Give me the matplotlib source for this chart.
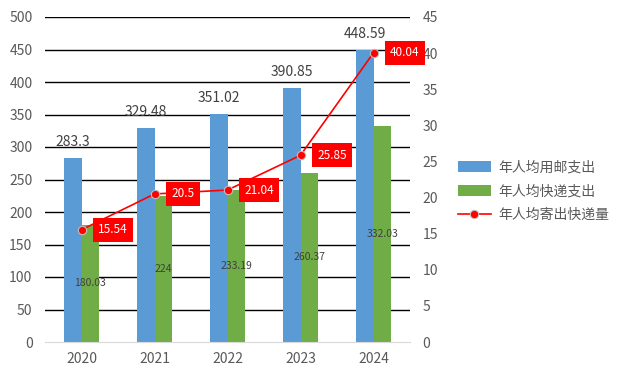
import matplotlib
matplotlib.use("Agg")
import matplotlib.pyplot as plt
import numpy as np

plt.rcParams['font.family'] = ['Noto Sans CJK SC', 'DejaVu Sans']

years = ['2020', '2021', '2022', '2023', '2024']
postal_spend = [283.3, 329.48, 351.02, 390.85, 448.59]
express_spend = [180.03, 224, 233.19, 260.37, 332.03]
express_count = [15.54, 20.5, 21.04, 25.85, 40.04]
series_names = ['年人均用邮支出', '年人均快递支出', '年人均寄出快递量']

blue = '#5B9BD5'
green = '#70AD47'
gray = '#595959'

fig = plt.figure(figsize=(6.33, 3.82), dpi=100)
ax = fig.add_axes([45/633, 1-342/382, 365/633, 325/382])
ax2 = ax.twinx()

x = np.arange(len(years))
w = 0.24
b1 = ax.bar(x - w/2, postal_spend, w, color=blue, label=series_names[0], zorder=2)
b2 = ax.bar(x + w/2, express_spend, w, color=green, label=series_names[1], zorder=2)

ax.set_xlim(-0.5, 4.5)
ax.set_ylim(0, 500)
ax.set_yticks(np.arange(0, 501, 50))
ax2.set_ylim(0, 45)
ax2.set_yticks(np.arange(0, 46, 5))

for yv in np.arange(50, 501, 50):
    ax.axhline(yv, color='black', lw=1.0, zorder=1)

for s in ['top', 'left', 'right']:
    ax.spines[s].set_visible(False)
    ax2.spines[s].set_visible(False)
ax2.spines['bottom'].set_visible(False)
ax.spines['bottom'].set_color('#D9D9D9')
ax.tick_params(axis='y', length=0, labelsize=10, colors=gray, pad=9)
ax.tick_params(axis='x', length=0, labelsize=10, colors=gray, pad=7)
ax2.tick_params(axis='y', length=0, labelsize=10, colors=gray, pad=9)
ax.set_xticks(x)
ax.set_xticklabels(years)

for xi, v in zip(x, postal_spend):
    ax.text(xi - w/2, v + 14, f'{v:g}', ha='center', va='bottom', fontsize=10, color='#404040', zorder=5)
for xi, v in zip(x, express_spend):
    ax.text(xi + w/2, v/2, f'{v:g}', ha='center', va='center', fontsize=7.5, color='#404040', zorder=5)

line, = ax2.plot(x, express_count, color='#FF0000', lw=1.2, marker='o', markersize=6,
                 markerfacecolor='#FF0000', markeredgecolor='#BFBFBF', markeredgewidth=0.8,
                 label=series_names[2], zorder=4)
ax2.set_zorder(ax.get_zorder() + 1)
ax.patch.set_visible(False)
for xi, v in zip(x, express_count):
    ax2.annotate(f'{v:g}', (xi, v), xytext=(12, 0), textcoords='offset points',
                 ha='left', va='center', fontsize=8.5, color='white',
                 bbox=dict(boxstyle='square,pad=0.45', fc='#FF0000', ec='none'), zorder=6)

handles = [b1, b2, line]
fig.legend(handles, series_names, loc='upper left', bbox_to_anchor=(452/633, 1-155/382),
           frameon=False, fontsize=10, labelcolor=gray, handlelength=2.4, handleheight=0.8,
           borderaxespad=0, labelspacing=0.7, handletextpad=0.5)

fig.savefig('out.png', dpi=100)
